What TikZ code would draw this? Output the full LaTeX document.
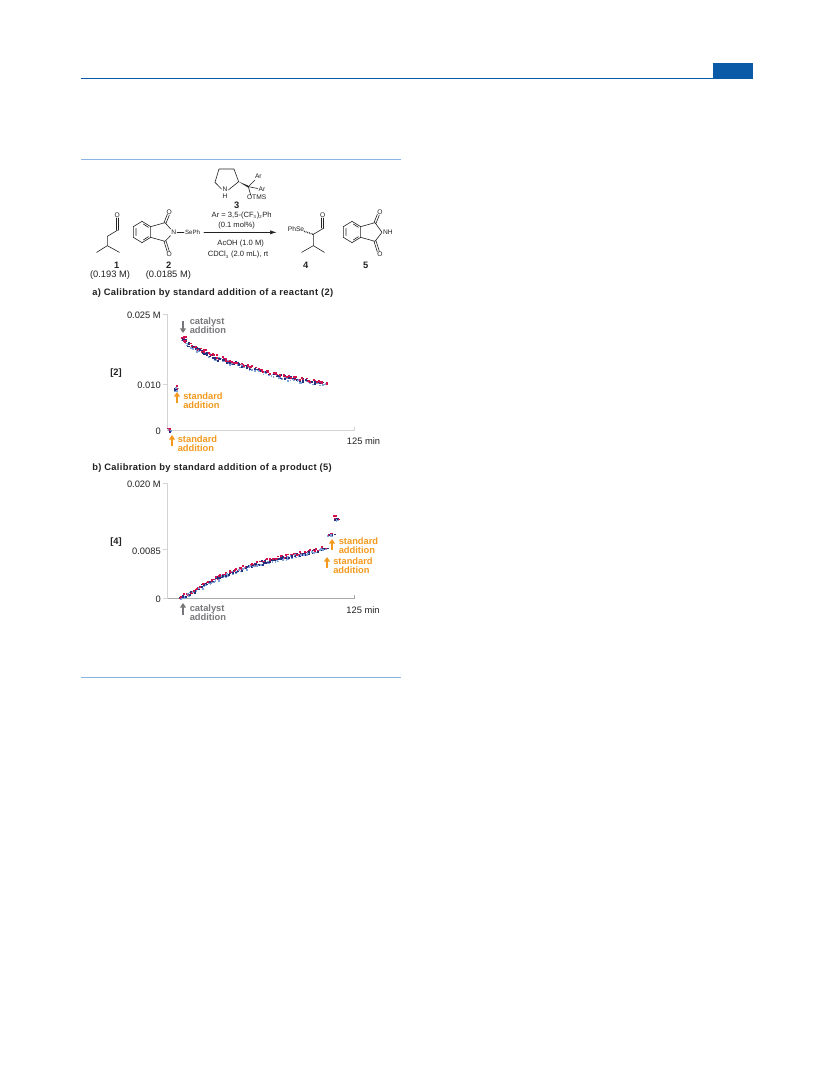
\documentclass[tikz,border=0pt]{standalone}
\usepackage{fontspec}
\setmainfont{Liberation Sans}
\usetikzlibrary{arrows.meta}
\definecolor{headblue}{HTML}{0A5AA8}
\definecolor{ruleblue}{HTML}{8CB4E2}
\definecolor{gold}{HTML}{F39A1E}
\definecolor{greytxt}{HTML}{77787B}
\definecolor{axisgrey}{HTML}{D2D3D5}
\definecolor{navyd}{HTML}{27307F}
\definecolor{crim}{HTML}{D2124F}
\definecolor{skyd}{HTML}{7FA3D6}
\definecolor{txt}{HTML}{222222}
\tikzset{
  lbl/.style={inner sep=0pt,text height=5.1pt,text depth=0pt,font=\fontsize{7}{8}\selectfont,text=txt},
  clbl/.style={lbl,font=\fontsize{5.7}{7}\selectfont},
  blbl/.style={lbl,font=\fontsize{7}{8}\selectfont\bfseries},
  ttl/.style={inner sep=0pt,anchor=west,text height=5.1pt,text depth=0pt,text=txt,font=\fontsize{7}{8}\selectfont\bfseries\addfontfeature{LetterSpace=3.6}},
  callout/.style={inner sep=0pt,anchor=north west,align=left,font=\fontsize{7}{6.9}\selectfont\bfseries},
  goldtxt/.style={callout,text=gold},
  greytext/.style={callout,text=greytxt},
  goldarrow/.style={draw=gold,line width=1.1pt,-{Triangle[length=3.4pt,width=4.4pt]}},
  greyarrow/.style={draw=greytxt,line width=1.1pt,-{Triangle[length=3.4pt,width=4.4pt]}},
  atom/.style={inner sep=.6pt,font=\fontsize{5}{6}\selectfont,text=txt},
  bond/.style={draw=txt,line width=.45pt,line cap=round},
  axisline/.style={draw=axisgrey,line width=.6pt},
}
% scatter segment: x0,y0,x1,y1,number of points
\newcommand{\scatseg}[5]{%
  \foreach \i in {1,...,#5}{%
    \pgfmathsetmacro{\px}{#1+(#3-#1)*\i/#5}%
    \pgfmathsetmacro{\py}{#2+(#4-#2)*\i/#5}%
    \pgfmathsetmacro{\ax}{\px+1.8*rand}\pgfmathsetmacro{\ay}{\py+1.7*rand}%
    \pgfmathsetmacro{\bx}{\px+1.8*rand}\pgfmathsetmacro{\by}{\py+1.5*rand}%
    \pgfmathsetmacro{\cx}{\px+1.8*rand}\pgfmathsetmacro{\cy}{\py-1.2+1.6*rand}%
    \fill[skyd] (\ax,\ay+.8) rectangle +(1.8,1.6);
    \fill[navyd] (\bx,\by) rectangle +(2,1.7);
    \fill[crim] (\cx,\cy) rectangle +(2,1.6);
  }}
\begin{document}
\begin{tikzpicture}[x=.75pt,y=-.75pt]
\useasboundingbox (0,0) rectangle (833,1091);
\fill[white] (0,0) rectangle (833,1091);
\pgfmathsetseed{4217}
% header
\fill[headblue] (713,63) rectangle (753,78);
\draw[headblue,line width=.8pt] (81,78.3) -- (753,78.3);
\draw[ruleblue,line width=1.2pt] (81,159.5) -- (401,159.5);
\draw[ruleblue,line width=1.2pt] (81,677.5) -- (401,677.5);

% scheme (coordinates in 3x zoom units)
\begin{scope}[shift={(80,155)},x=.25pt,y=-.25pt]
  % 1
  \node[atom] (o1) at (112,181) {O};
  \coordinate (c1a) at (112,226); \coordinate (c1b) at (82,244);
  \coordinate (c1c) at (82,272); \coordinate (c1d) at (50,292); \coordinate (c1e) at (118,292);
  \draw[bond] (c1e) -- (c1c) -- (c1d) (c1c) -- (c1b) -- (c1a);
  \draw[bond] (109,226) -- (109,189) (115,226) -- (115,189);
  % 2
  \coordinate (a1) at (160,215); \coordinate (a2) at (186,199); \coordinate (a3) at (212,215);
  \coordinate (a4) at (212,247); \coordinate (a5) at (186,263); \coordinate (a6) at (160,247);
  \coordinate (b1) at (255,203); \coordinate (b2) at (255,259);
  \node[atom] (n2) at (281,232) {N};
  \node[atom] (ot2) at (268,171) {O};
  \node[atom] (ob2) at (268,299) {O};
  \node[atom,anchor=west,font=\fontsize{4.6}{6}\selectfont] (se2) at (312,232) {SePh};
  \draw[bond] (a1) -- (a2) -- (a3) -- (a4) -- (a5) -- (a6) -- cycle;
  \draw[bond] (168,220) -- (168,242) (190,207) -- (205,217) (190,255) -- (205,245);
  \draw[bond] (a3) -- (b1) -- (n2) -- (b2) -- (a4);
  \draw[bond] (n2) -- (se2);
  \draw[bond] (252,203) -- (262,178) (258,205) -- (268,180);
  \draw[bond] (252,259) -- (262,291) (258,257) -- (268,289);
  \node[blbl] (l1) at (110,331) {1};
  \node[blbl] (l2) at (266,331) {2};
  \node[lbl] (c1l) at (90,358) {(0.193 M)};
  \node[lbl] (c2l) at (265,358) {(0.0185 M)};
  % 3
  \node[atom,align=center,font=\fontsize{5}{4.6}\selectfont] (n3) at (435,113) {N\\H};
  \coordinate (p1) at (405,82); \coordinate (p2) at (417,42); \coordinate (p3) at (462,42); \coordinate (p4) at (476,80);
  \coordinate (q3) at (505,95);
  \node[atom] (ar1) at (535,65) {Ar};
  \node[atom] (ar2) at (546,103) {Ar};
  \node[atom] (otms) at (530,128) {OTMS};
  \draw[bond] (n3) -- (p1) -- (p2) -- (p3) -- (p4) -- (n3);
  \fill[txt] (p4) -- (505,92) -- (505,98) -- cycle;
  \draw[bond] (q3) -- (ar1) (q3) -- (ar2) (q3) -- (512,120);
  \node[blbl] (l3) at (470,150) {3};
  \node[clbl] (arl) at (485,176) {Ar = 3,5-(CF\textsubscript{\fontsize{3.2}{4}\selectfont 3})\textsubscript{\fontsize{3.2}{4}\selectfont 2}Ph};
  \node[clbl] (mol) at (470,207) {(0.1 mol\%)};
  \coordinate (arrA) at (372,232); \coordinate (arrB) at (590,232);
  \draw[bond,-{Latex[length=5pt,width=3pt]}] (arrA) -- (arrB);
  \node[clbl] (acoh) at (482,261) {AcOH (1.0 M)};
  \node[clbl] (cdcl) at (474,295) {CDCl\textsubscript{\fontsize{3.2}{4}\selectfont 3} (2.0 mL), rt};
  % 4
  \node[atom] (se4) at (648,221) {PhSe};
  \coordinate (d1) at (700,238); \coordinate (d2) at (732,219); \coordinate (d3) at (700,272);
  \coordinate (d4) at (665,292); \coordinate (d5) at (733,292);
  \node[atom] (o4) at (728,181) {O};
  \draw[bond] (d2) -- (d1) -- (d3) -- (d4) (d3) -- (d5);
  \draw[bond] (725,219) -- (725,189) (731,219) -- (731,189);
  \draw[draw=txt,dash pattern=on .6pt off .7pt,line width=1pt] (672,229) -- (d1);
  \node[blbl] (l4) at (677,331) {4};
  % 5
  \coordinate (e1) at (790,215); \coordinate (e2) at (816,199); \coordinate (e3) at (842,215);
  \coordinate (e4) at (842,247); \coordinate (e5) at (816,263); \coordinate (e6) at (790,247);
  \coordinate (f1) at (885,203); \coordinate (f2) at (885,259);
  \node[atom,anchor=west] (n5) at (906,232) {NH};
  \node[atom] (ot5) at (900,171) {O};
  \node[atom] (ob5) at (900,299) {O};
  \draw[bond] (e1) -- (e2) -- (e3) -- (e4) -- (e5) -- (e6) -- cycle;
  \draw[bond] (798,220) -- (798,242) (820,207) -- (835,217) (820,255) -- (835,245);
  \draw[bond] (e3) -- (f1) -- (n5.west) (n5.west) -- (f2) -- (e4);
  \draw[bond] (882,203) -- (892,178) (888,205) -- (898,180);
  \draw[bond] (882,259) -- (892,291) (888,257) -- (898,289);
  \node[blbl] (l5) at (857,331) {5};
\end{scope}

% chart a
\node[ttl] (ta) at (92,292) {a) Calibration by standard addition of a reactant (2)};
\coordinate (ax0) at (167.5,430.5); \coordinate (axt) at (167.5,314.5); \coordinate (axr) at (354,430.5);
\draw[axisline] (163,314.5) -- (axt) -- (ax0) -- (axr) -- (354,427);
\draw[axisline] (163,384.5) -- (167.5,384.5);
\node[lbl,anchor=east] (a025) at (161,315.5) {0.025 M};
\node[lbl,anchor=east] (a010) at (161,385) {0.010};
\node[lbl,anchor=east] (a0) at (161,431) {0};
\node[lbl] (a125) at (363.5,441.5) {125 min};
\node[blbl] (a2) at (116,372.5) {[2]};
\scatseg{166}{430}{171}{430}{3}
\scatseg{172.5}{391}{176}{387.5}{4}
\scatseg{179}{337}{183}{338}{3}
\scatseg{183}{338}{190}{346}{8}
\scatseg{190}{346}{220}{359}{22}
\scatseg{220}{359}{247}{366.5}{18}
\scatseg{247}{366.5}{280}{376}{20}
\scatseg{280}{376}{305}{380.5}{15}
\scatseg{305}{380.5}{326}{383}{14}
\coordinate (ca1) at (183,321); \coordinate (ca2) at (183,333);
\draw[greyarrow] (ca1) -- (ca2);
\node[greytext] (cat1) at (189.5,317.5) {catalyst\\addition};
\coordinate (sa1) at (177,403); \coordinate (sa2) at (177,392);
\draw[goldarrow] (sa1) -- (sa2);
\node[goldtxt] (std1) at (183,392.5) {standard\\addition};
\coordinate (sb1) at (172,446); \coordinate (sb2) at (172,435);
\draw[goldarrow] (sb1) -- (sb2);
\node[goldtxt] (std2) at (177.5,435) {standard\\addition};

% chart b
\node[ttl] (tb) at (92,467) {b) Calibration by standard addition of a product (5)};
\coordinate (bx0) at (167.5,598.5); \coordinate (bxt) at (167.5,483.5); \coordinate (bxr) at (354,598.5);
\draw[axisline] (163,483.5) -- (bxt) -- (bx0);
\draw[draw=axisgrey!80!black,line width=.6pt] (bx0) -- (bxr) -- (354,595);
\draw[axisline] (163,549.5) -- (167.5,549.5) (163,598.5) -- (167.5,598.5);
\node[lbl,anchor=east] (b020) at (161,484.5) {0.020 M};
\node[lbl,anchor=east] (b085) at (161,551) {0.0085};
\node[lbl,anchor=east] (b0) at (161,599.5) {0};
\node[lbl] (b125) at (363,610) {125 min};
\node[blbl] (b4) at (116,541.5) {[4]};
\scatseg{179}{598}{188}{594}{7}
\scatseg{188}{594}{203}{584}{12}
\scatseg{203}{584}{230}{572}{22}
\scatseg{230}{572}{263}{561.5}{24}
\scatseg{263}{561.5}{297}{554}{24}
\scatseg{297}{554}{326}{548}{20}
\scatseg{327}{534.5}{332}{534}{4}
\scatseg{333}{517}{337}{518.5}{4}
\coordinate (cb1) at (183,615); \coordinate (cb2) at (183,603);
\draw[greyarrow] (cb1) -- (cb2);
\node[greytext] (cat2) at (189.5,604.5) {catalyst\\addition};
\coordinate (sc1) at (332,550); \coordinate (sc2) at (332,539);
\draw[goldarrow] (sc1) -- (sc2);
\node[goldtxt] (std3) at (338.5,537.5) {standard\\addition};
\coordinate (sd1) at (327,568); \coordinate (sd2) at (327,557);
\draw[goldarrow] (sd1) -- (sd2);
\node[goldtxt] (std4) at (333,557.5) {standard\\addition};
\end{tikzpicture}
\end{document}
